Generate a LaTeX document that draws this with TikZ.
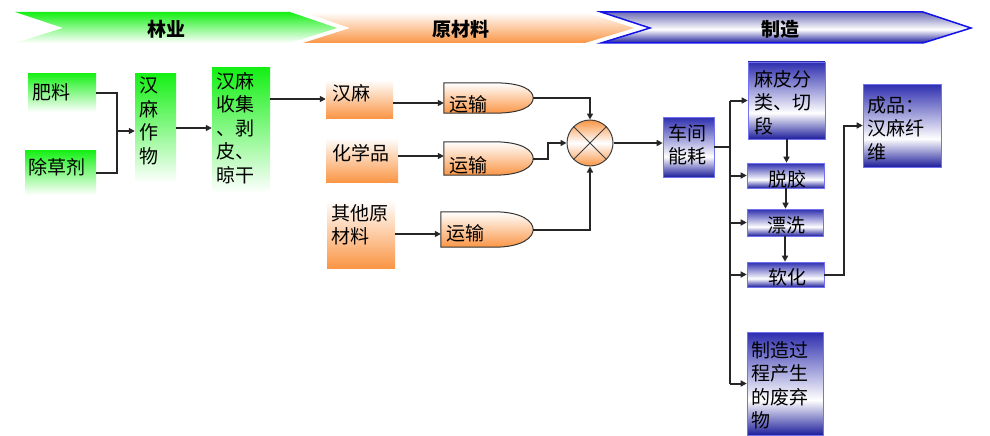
\documentclass[tikz,border=0pt]{standalone}
\usepackage{fontspec}
\newfontfamily\cjk{Noto Sans CJK SC}
\usetikzlibrary{arrows.meta,calc}
\definecolor{gr}{RGB}{20,240,20}
\definecolor{org}{RGB}{250,150,70}
\definecolor{nv}{RGB}{30,30,155}
\definecolor{nvt}{RGB}{45,45,175}
\definecolor{nvh}{RGB}{110,110,180}
\definecolor{bl}{RGB}{20,20,230}
\pgfdeclareverticalshading{bshade}{100bp}{color(0bp)=(nv); color(25bp)=(nv); color(42bp)=(white); color(75bp)=(nvt); color(100bp)=(nvt)}
\pgfdeclareverticalshading{hshade}{100bp}{color(0bp)=(nv); color(25bp)=(nv); color(47bp)=(white); color(75bp)=(nvh); color(100bp)=(nvh)}
\tikzset{
  ln/.style={line width=2pt, draw=black!85},
  arr/.style={ln, -{Triangle[length=6pt,width=6pt]}},
  gbox/.style={rectangle, inner sep=0pt, top color=gr, bottom color=white},
  obox/.style={rectangle, inner sep=0pt, top color=white, bottom color=org},
  bbox/.style={rectangle, inner sep=0pt, draw=bl!60, line width=0.6pt, shading=bshade},
  gatebox/.style={rectangle, inner sep=0pt},
  gatesty/.style={draw=black!80, line width=1pt, top color=white, bottom color=org},
  txt/.style={font=\cjk\fontsize{19}{23.5}\selectfont, inner sep=0pt, align=left},
  htxt/.style={font=\cjk\bfseries\fontsize{19}{20}\selectfont, inner sep=0pt},
}
\newcommand\gatedraw[1]{\path[gatesty] (#1.north west) -- ($(#1.north east)+(-39,0)$) .. controls +(28,0) and +(0,-8) .. (#1.east) .. controls +(0,8) and +(28,0) .. ($(#1.south east)+(-39,0)$) -- (#1.south west) -- cycle;}
\begin{document}
\begin{tikzpicture}[x=1pt,y=-1pt]
\useasboundingbox (0,0) rectangle (990,436);
% header bands
\path[top color=white, bottom color=org] (303,12) -- (585,12) -- (634,28) -- (585,43) -- (303,43) -- (350,28) -- cycle;
\path[top color=gr, bottom color=white] (15,12) -- (290,12) -- (337,28) -- (290,43) -- (15,43) -- (63,28) -- cycle;
\path[draw=bl, line width=1.5pt, shading=hshade] (601,12) -- (923,12) -- (971,28) -- (923,43) -- (601,43) -- (650,28) -- cycle;
\node[htxt] (h1) at (166,29) {林业};
\node[htxt] (h2) at (461,29) {原材料};
\node[htxt] (h3) at (780,29) {制造};
% forestry boxes
\node[gbox, minimum width=68, minimum height=39] (fl) at (62,92.5) {};
\node[txt, anchor=west] at (32,92) {肥料};
\node[gbox, minimum width=71, minimum height=45] (cc) at (60.5,172.5) {};
\node[txt, anchor=west] at (28,167) {除草剂};
\node[gbox, minimum width=41, minimum height=110] (hmzw) at (155.5,128) {};
\node[txt, anchor=north west] at (139,77) {汉\\麻\\作\\物};
\node[gbox, minimum width=58, minimum height=125] (hmsj) at (241,130.5) {};
\node[txt, anchor=north west] at (216,72) {汉麻\\收集\\、剥\\皮、\\晾干};
% raw material boxes
\node[obox, minimum width=67, minimum height=38] (hm) at (359.5,99) {};
\node[txt, anchor=west] at (332,93) {汉麻};
\node[obox, minimum width=72, minimum height=44] (hxp) at (362,160) {};
\node[txt, anchor=west] at (332,153) {化学品};
\node[obox, minimum width=68, minimum height=68] (qt) at (361,234) {};
\node[txt, anchor=north west] at (331,204) {其他原\\材料};
% transport gates
\node[gatebox, minimum width=89, minimum height=30] (ys1) at (488.5,98) {};
\node[gatebox, minimum width=89, minimum height=33] (ys2) at (488.5,158.5) {};
\node[gatebox, minimum width=92, minimum height=35] (ys3) at (487,229.5) {};
\gatedraw{ys1}\gatedraw{ys2}\gatedraw{ys3}
\node[txt, anchor=west] at (449,104) {运输};
\node[txt, anchor=west] at (449,165) {运输};
\node[txt, anchor=west] at (446,233) {运输};
% mixer
\node[circle, minimum size=46, inner sep=0pt, draw=black!75, line width=1pt, top color=org, bottom color=org, middle color=white] (mx) at (590,143) {};
\draw[black!75, line width=1pt] (mx.north west) -- (mx.south east) (mx.north east) -- (mx.south west);
% manufacturing boxes
\node[bbox, minimum width=51, minimum height=60] (cj) at (688.5,147) {};
\node[txt, anchor=north west] at (668,124) {车间\\能耗};
\node[bbox, minimum width=77, minimum height=77] (mp) at (786.5,100.5) {};
\node[txt, anchor=north west] at (754,70) {麻皮分\\类、切\\段};
\node[bbox, minimum width=77, minimum height=25] (tj) at (785.5,175.5) {};
\node[txt] at (787,179) {脱胶};
\node[bbox, minimum width=76, minimum height=27] (px) at (785,222.5) {};
\node[txt] at (786,225) {漂洗};
\node[bbox, minimum width=77, minimum height=25] (rh) at (785.5,274.5) {};
\node[txt] at (787,277) {软化};
\node[bbox, minimum width=78, minimum height=83] (cp) at (902,125.5) {};
\node[txt, anchor=north west] at (867,96) {成品：\\汉麻纤\\维};
\node[bbox, minimum width=76, minimum height=103] (fq) at (785,383.5) {};
\node[txt, anchor=north west] at (751,341) {制造过\\程产生\\的废弃\\物};
% connectors
\coordinate (j1) at (117,131);
\draw[ln] (fl.east) -| (j1);
\draw[ln] (cc.east) -| (j1);
\draw[arr] (j1) -- (j1 -| hmzw.west);
\draw[arr] (hmzw.east) -- (hmzw.east -| hmsj.west);
\draw[arr] (hmsj.east |- hm.west) -- (hm.west);
\draw[arr] ([yshift=-4pt]hm.east) -- ([yshift=-4pt]hm.east -| ys1.west);
\draw[arr] ([yshift=4pt]hxp.east) -- ([yshift=4pt]hxp.east -| ys2.west);
\draw[arr] (qt.east) -- (qt.east -| ys3.west);
\draw[arr] (ys1.east) -| (mx.north);
\draw[arr] (ys2.east) -- ++(15,0) |- (mx.west);
\draw[arr] (ys3.east) -| (mx.south);
\draw[arr] (mx.east) -- (mx.east -| cj.west);
\coordinate (bx) at (730,0);
\draw[ln] (cj.east) -- (cj.east -| bx);
\draw[ln] (mp.west -| bx) -- (fq.west -| bx);
\draw[arr] (mp.west -| bx) -- (mp.west);
\draw[arr] (tj.west -| bx) -- (tj.west);
\draw[arr] (px.west -| bx) -- (px.west);
\draw[arr] (rh.west -| bx) -- (rh.west);
\draw[arr] (fq.west -| bx) -- (fq.west);
\draw[arr] (mp.south) -- (mp.south |- tj.north);
\draw[arr] (tj.south) -- (tj.south |- px.north);
\draw[arr] (px.south) -- (px.south |- rh.north);
\draw[arr] (rh.east) -- ++(20,0) |- (cp.west);
\end{tikzpicture}
\end{document}
